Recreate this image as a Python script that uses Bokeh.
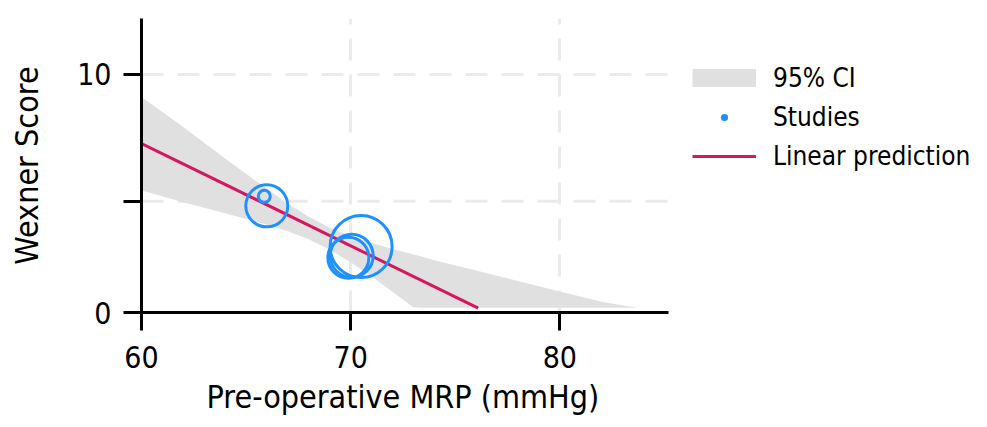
from bokeh.plotting import figure
from bokeh.models import Range1d, FixedTicker, Legend, LegendItem, ColumnDataSource, Title
from bokeh.embed import file_html
from bokeh.resources import INLINE

# ---- data ----
x_ticks = [60, 70, 80]
x_axis_end = 85.2
y_ticks = [0, 4.67, 10]
y_tick_labels = {0: "0", 4.67: "", 10: "10"}

# 95% CI band
ci_x = [60, 62, 64, 66, 67, 68, 69, 70, 71, 72, 73, 73.4, 74, 76, 78, 80, 82, 83.7]
ci_upper = [9.05, 7.79, 6.47, 5.19, 4.57, 4.02, 3.56, 3.21, 2.93, 2.67, 2.44, 2.35, 2.20, 1.76, 1.32, 0.88, 0.45, 0.2]
ci_lower = [5.12, 4.63, 4.17, 3.69, 3.41, 3.08, 2.64, 2.11, 1.51, 0.87, 0.22, 0.2, 0.2, 0.2, 0.2, 0.2, 0.2, 0.2]

# Linear prediction
fit_x = [60, 76.1]
fit_y = [7.1, 0.18]

# Studies (x = MRP, y = Wexner score, marker size = study weight)
study_x = [65.99, 65.87, 70.50, 70.05, 69.89]
study_y = [4.48, 4.88, 2.77, 2.38, 2.30]
study_size = [42, 12, 62, 43, 41]

legend_labels = ["95% CI", "Studies", "Linear prediction"]
x_label = "Pre-operative MRP (mmHg)"
y_label = "Wexner Score"

FONT = "DejaVu Sans Condensed"
BLUE = "#1e90ff"
RED = "#d6175f"
GREY = "#e0e0e0"
NAN = float("nan")

# frame spans the legend area too; the x axis is bounded to the data range
p = figure(width=987, height=427, output_backend="svg", toolbar_location=None,
           x_range=Range1d(60, 100.45), y_range=Range1d(0, 12.35),
           min_border_left=141, min_border_right=0, min_border_top=18,
           min_border_bottom=115)
p.outline_line_color = None
p.background_fill_color = "white"

# horizontal dashed grid lines, limited to the axis extent
p.ygrid.visible = False
p.segment(x0=[x_ticks[0]] * len(y_ticks), x1=[x_axis_end] * len(y_ticks),
          y0=y_ticks, y1=y_ticks, line_color="#ebebeb", line_width=3, line_dash="22 14")

band = p.varea(x=ci_x, y1=ci_lower, y2=ci_upper, fill_color=GREY, fill_alpha=1.0)
line = p.line(x=fit_x, y=fit_y, line_color=RED, line_width=3)
src = ColumnDataSource(dict(x=study_x, y=study_y, s=study_size))
p.scatter(x="x", y="y", size="s", source=src, fill_color=None, line_color=BLUE, line_width=3)

# legend-only keys (not drawn in the plot)
ci_key = p.line(x=[NAN, NAN], y=[NAN, NAN], line_color=GREY, line_width=27, line_cap="butt")
dot_key = p.scatter(x=[NAN], y=[NAN], size=8, fill_color=BLUE, line_color=None)

# axes
p.xaxis.ticker = FixedTicker(ticks=x_ticks)
p.xaxis.bounds = (x_ticks[0], x_axis_end)
p.yaxis.ticker = FixedTicker(ticks=y_ticks)
p.yaxis.major_label_overrides = y_tick_labels
for ax in (p.xaxis[0], p.yaxis[0]):
    ax.axis_line_width = 3
    ax.axis_line_color = "black"
    ax.major_tick_line_width = 3
    ax.major_tick_line_color = "black"
    ax.major_tick_out = 18
    ax.major_tick_in = 0
    ax.minor_tick_line_color = None
    ax.major_label_text_font = FONT
    ax.major_label_text_font_size = "30px"
    ax.major_label_text_color = "black"
    ax.axis_label_text_font = FONT
    ax.axis_label_text_font_style = "normal"
    ax.axis_label_text_color = "black"
p.xaxis.major_label_standoff = 15
p.yaxis.major_label_standoff = 12
p.yaxis.axis_label = y_label
p.yaxis.axis_label_text_font_size = "32px"
p.yaxis.axis_label_standoff = 28
p.yaxis.major_label_orientation = "horizontal"

# x axis title, centred under the bounded axis
xt = Title(text=x_label, align="left", offset=65, standoff=10,
           text_font=FONT, text_font_size="32px", text_font_style="normal",
           text_color="black")
p.add_layout(xt, "below")

# vertical dashed grid
g = p.xgrid[0]
g.grid_line_color = "#ebebeb"
g.grid_line_width = 3
g.grid_line_dash = "22 14"
g.ticker = FixedTicker(ticks=x_ticks)

legend = Legend(items=[LegendItem(label=legend_labels[0], renderers=[ci_key]),
                       LegendItem(label=legend_labels[1], renderers=[dot_key]),
                       LegendItem(label=legend_labels[2], renderers=[line])],
                location=(551, 141), padding=0, margin=0, border_line_alpha=0,
                background_fill_alpha=0, label_text_font=FONT, label_text_font_size="26px",
                label_text_color="black", glyph_width=64, glyph_height=18,
                label_height=30, spacing=9, label_standoff=17)
p.add_layout(legend)

open("out.html", "w").write(file_html(p, INLINE))
